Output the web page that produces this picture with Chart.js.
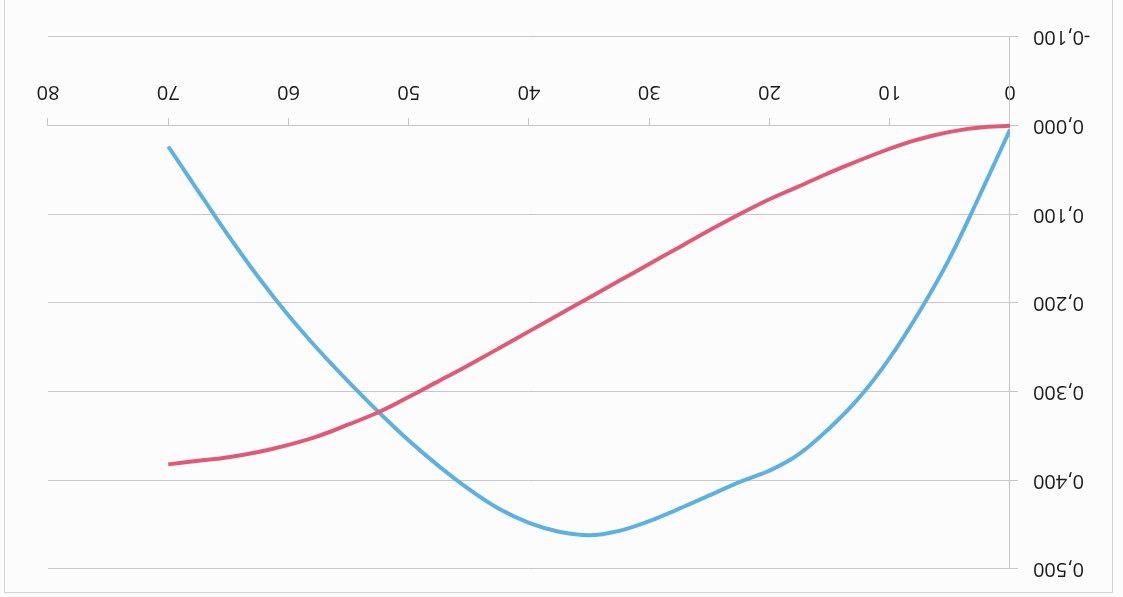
<!DOCTYPE html>
<html>
<head>
<meta charset="utf-8">
<script src="https://cdn.jsdelivr.net/npm/chart.js@4/dist/chart.umd.min.js"></script>
<style>
  html, body { margin: 0; padding: 0; background: #fff; overflow: hidden; }
  /* the scan is upside down, so the whole chart is turned by 180 degrees */
  #sheet {
    position: absolute; left: 0; top: 0;
    width: 1123px; height: 597px;
    transform: rotate(180deg);
    background: #fdfcfd;
  }
  #frame {
    position: absolute; left: 10px; top: 4px;
    width: 1107px; height: 640px;
    border: 1px solid #d4d0d4;
  }
  #box { position: absolute; left: 0; top: 0; width: 1123px; height: 597px; }
</style>
</head>
<body>
<div id="sheet">
  <div id="frame"></div>
  <div id="box"><canvas id="chart"></canvas></div>
</div>
<script>
// x positions of the read points
const xValues = [0, 2.5, 5, 7.5, 10, 12.5, 15, 17.5, 20, 22.5, 25, 27.5, 30, 32.5, 35,
                 37.5, 40, 42.5, 45, 47.5, 50, 52.5, 55, 57.5, 60, 62.5, 65, 67.5, 70];

// blue curve (rises to a maximum around 35, back near zero at 70)
const blueValues = [0.0045, 0.078, 0.149, 0.209, 0.262, 0.306, 0.341, 0.370, 0.389, 0.402,
                    0.417, 0.432, 0.446, 0.457, 0.462, 0.458, 0.448, 0.432, 0.410, 0.384,
                    0.355, 0.323, 0.289, 0.253, 0.214, 0.171, 0.124, 0.074, 0.0235];

// red curve (monotone, flattening out at 70)
const redValues = [0.000, 0.002, 0.007, 0.015, 0.026, 0.039, 0.053, 0.068, 0.083, 0.100,
                   0.118, 0.137, 0.156, 0.175, 0.194, 0.213, 0.232, 0.251, 0.270, 0.288,
                   0.306, 0.323, 0.337, 0.350, 0.360, 0.368, 0.374, 0.378, 0.382];

const xMin = 0, xMax = 80, xStep = 10;
const yMin = -0.1, yMax = 0.5, yStep = 0.1;

const gridColor = '#c9c4c9';
const textColor = '#1a1a1a';

function toPoints(ys) {
    return xValues.map((x, i) => ({ x: x, y: ys[i] }));
}

function formatY(v) {
    // comma decimal, three digits
    let s = Math.abs(v) < 1e-9 ? '0.000' : v.toFixed(3);
    return s.replace('.', ',');
}

Chart.defaults.font.family = '"Open Sans", "Liberation Sans", sans-serif';
Chart.defaults.font.size = 20;
Chart.defaults.color = textColor;

const ctx = document.getElementById('chart').getContext('2d');
new Chart(ctx, {
    type: 'line',
    data: {
        datasets: [
            {
                label: 'rouge',
                data: toPoints(redValues),
                borderColor: '#e05a78',
                borderWidth: 4,
                pointRadius: 0,
                fill: false,
                cubicInterpolationMode: 'monotone',
            },
            {
                label: 'bleu',
                data: toPoints(blueValues),
                borderColor: '#5cb1e1',
                borderWidth: 4,
                pointRadius: 0,
                fill: false,
                cubicInterpolationMode: 'monotone',
            }
        ]
    },
    options: {
        responsive: true,
        maintainAspectRatio: false,
        animation: false,
        layout: { padding: { left: 0, right: 48, top: 28, bottom: 37 } },
        plugins: {
            legend: { display: false },
            tooltip: { enabled: false }
        },
        scales: {
            x: {
                type: 'linear',
                position: { y: 0 },
                min: xMin,
                max: xMax,
                ticks: { stepSize: xStep, padding: 15, maxRotation: 0 },
                grid: {
                    drawOnChartArea: false,
                    drawTicks: true,
                    tickLength: 7,
                    color: gridColor,
                },
                border: { display: true, color: gridColor, width: 1 }
            },
            y: {
                type: 'linear',
                position: 'left',
                min: yMin,
                max: yMax,
                ticks: { stepSize: yStep, padding: 15, callback: (v) => formatY(v) },
                grid: { color: gridColor, tickLength: 8, lineWidth: 1 },
                border: { display: true, color: gridColor, width: 1 },
                afterFit: (scale) => { scale.width = 113; }
            }
        }
    }
});
</script>
</body>
</html>
